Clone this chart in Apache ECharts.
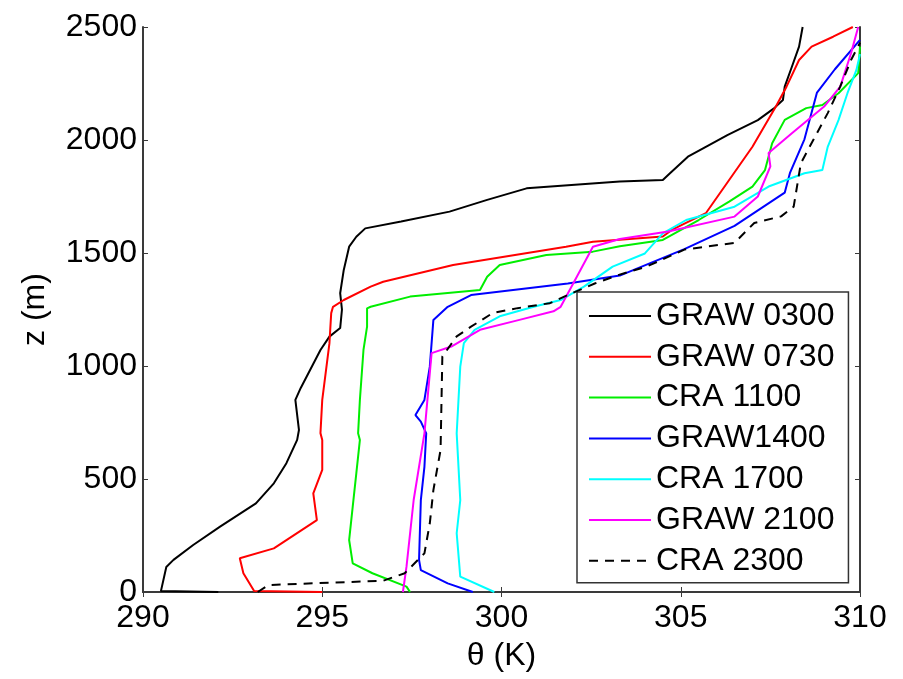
<!DOCTYPE html>
<html>
<head>
<meta charset="utf-8">
<title>Potential temperature profiles</title>
<script src="https://cdn.jsdelivr.net/npm/echarts@6/dist/echarts.min.js"></script>
<style>
  html, body { margin: 0; padding: 0; background: #fff; }
  #chart { width: 903px; height: 679px; }
</style>
</head>
<body>
<div id="chart"></div>
<script>
// Potential temperature (K) against height (m) for each sounding
const seriesNames = ['GRAW 0300', 'GRAW 0730', 'CRA 1100', 'GRAW1400', 'CRA 1700', 'GRAW 2100', 'CRA 2300'];

const graw0300Theta = [292.1, 290.5, 290.65, 290.85, 291.4, 292.15, 293.15, 293.65, 294.0, 294.3, 294.35, 294.25, 294.4, 294.95, 295.2, 295.5, 295.55, 295.5, 295.6, 295.75, 295.95, 296.2, 297.2, 298.55, 299.6, 300.7, 303.3, 304.5, 304.7, 305.2, 305.7, 306.3, 307.15, 307.6, 307.85, 307.9, 308.1, 308.3, 308.4];
const graw0300Z     = [0, 4, 111, 142, 208, 289, 392, 481, 570, 673, 717, 850, 903, 1071, 1130, 1168, 1250, 1322, 1425, 1528, 1572, 1609, 1639, 1683, 1735, 1786, 1816, 1823, 1853, 1926, 1970, 2022, 2088, 2140, 2177, 2236, 2324, 2413, 2500];

const graw0730Theta = [295.0, 293.1, 292.8, 292.7, 293.65, 294.85, 294.75, 295.0, 295.0, 294.95, 295.0, 295.2, 295.25, 295.3, 295.6, 296.35, 296.7, 298.65, 301.8, 302.55, 303.2, 304.5, 304.75, 305.7, 306.35, 307.0, 307.65, 307.95, 308.3, 308.65, 309.25, 309.8];
const graw0730Z     = [0, 4, 83, 149, 193, 318, 436, 540, 673, 703, 850, 1100, 1234, 1262, 1292, 1351, 1373, 1447, 1528, 1550, 1558, 1573, 1602, 1676, 1823, 1970, 2147, 2236, 2354, 2413, 2457, 2500];

const cra1100Theta = [297.45, 297.35, 296.4, 295.85, 295.75, 295.85, 295.95, 296.05, 296.0, 296.05, 296.15, 296.25, 296.25, 296.35, 297.45, 299.4, 299.6, 299.95, 301.25, 302.55, 303.3, 304.5, 305.5, 306.35, 307.0, 307.35, 307.55, 307.9, 308.5, 308.95, 309.4, 309.95, 310.0];
const cra1100Z     = [0, 24, 83, 127, 230, 378, 525, 673, 702, 850, 1071, 1174, 1255, 1262, 1307, 1336, 1395, 1447, 1491, 1506, 1530, 1558, 1646, 1727, 1794, 1867, 1986, 2089, 2141, 2155, 2207, 2296, 2413];

const graw1400Theta = [299.2, 298.5, 297.75, 297.7, 297.75, 297.85, 297.9, 297.75, 297.6, 297.85, 298.0, 298.1, 298.5, 299.15, 301.85, 303.3, 305.1, 306.5, 307.9, 308.05, 308.45, 308.8, 309.3, 310.0];
const graw1400Z     = [0, 38, 97, 142, 407, 554, 702, 754, 783, 850, 997, 1204, 1262, 1314, 1365, 1400, 1517, 1620, 1767, 1856, 2003, 2210, 2313, 2443];

const cra1700Theta = [299.8, 298.85, 298.75, 298.85, 298.75, 298.85, 298.95, 299.25, 299.95, 300.9, 301.65, 302.3, 303.1, 304.0, 304.5, 305.15, 306.5, 307.45, 308.45, 308.95, 309.1, 309.4, 309.65, 309.9, 310.0];
const cra1700Z     = [0, 68, 260, 407, 702, 997, 1101, 1160, 1220, 1262, 1292, 1351, 1440, 1498, 1587, 1646, 1705, 1794, 1853, 1867, 1970, 2088, 2207, 2310, 2380];

const graw2100Theta = [297.25, 297.35, 297.55, 297.85, 298.05, 298.6, 299.4, 300.5, 301.45, 301.65, 302.0, 302.55, 303.3, 304.65, 306.5, 307.15, 307.5, 307.45, 308.1, 309.0, 309.45, 309.75, 309.95];
const graw2100Z     = [0, 112, 407, 702, 1057, 1086, 1160, 1204, 1242, 1262, 1365, 1528, 1562, 1595, 1661, 1750, 1883, 1942, 2030, 2148, 2236, 2384, 2500];

const cra2300Theta = [293.2, 293.5, 296.7, 297.3, 297.85, 298.0, 298.1, 298.3, 298.35, 298.75, 299.15, 299.75, 300.45, 301.35, 301.85, 302.6, 303.25, 304.05, 305.1, 306.5, 307.05, 307.8, 308.15, 308.35, 308.7, 309.1, 309.45, 309.75, 310.0];
const cra2300Z     = [0, 31, 50, 83, 171, 304, 451, 628, 1042, 1131, 1174, 1234, 1256, 1278, 1314, 1365, 1402, 1440, 1515, 1545, 1633, 1662, 1705, 1897, 2001, 2119, 2237, 2354, 2430];

// Axis ticks
const thetaTicks = [290, 295, 300, 305, 310];
const zTicks = [0, 500, 1000, 1500, 2000, 2500];

const profiles = [
  { theta: graw0300Theta, z: graw0300Z, color: '#000000', type: 'solid' },
  { theta: graw0730Theta, z: graw0730Z, color: '#ff0000', type: 'solid' },
  { theta: cra1100Theta,  z: cra1100Z,  color: '#00ee00', type: 'solid' },
  { theta: graw1400Theta, z: graw1400Z, color: '#0000ff', type: 'solid' },
  { theta: cra1700Theta,  z: cra1700Z,  color: '#00ffff', type: 'solid' },
  { theta: graw2100Theta, z: graw2100Z, color: '#ff00ff', type: 'solid' },
  { theta: cra2300Theta,  z: cra2300Z,  color: '#000000', type: [9, 7] }
];

const FONT = '"Liberation Sans", Arial, Helvetica, sans-serif';
const frameColor = '#3a3a3a';

const chart = echarts.init(document.getElementById('chart'), null, { renderer: 'canvas' });

const baseAxisLine = { show: true, lineStyle: { color: frameColor, width: 2 } };
const tickStyle = { show: true, inside: true, length: 5, lineStyle: { color: frameColor, width: 1 } };
const plainNumber = v => String(v);

chart.setOption({
  animation: false,
  backgroundColor: '#ffffff',
  grid: { left: 143, right: 43, top: 27, bottom: 87, containLabel: false },
  xAxis: [
    {
      type: 'value', min: thetaTicks[0], max: thetaTicks[thetaTicks.length - 1], interval: 5,
      position: 'bottom',
      name: 'θ (K)', nameLocation: 'middle', nameGap: 48,
      nameTextStyle: { fontFamily: FONT, fontSize: 32, color: '#000' },
      axisLine: baseAxisLine, axisTick: tickStyle, splitLine: { show: false },
      axisLabel: { fontFamily: FONT, fontSize: 32, color: '#000', margin: 10, formatter: plainNumber }
    },
    {
      type: 'value', min: thetaTicks[0], max: thetaTicks[thetaTicks.length - 1], interval: 5,
      position: 'top',
      axisLine: baseAxisLine, axisTick: tickStyle, splitLine: { show: false },
      axisLabel: { show: false }
    }
  ],
  yAxis: [
    {
      type: 'value', min: zTicks[0], max: zTicks[zTicks.length - 1], interval: 500,
      position: 'left',
      name: 'z (m)', nameLocation: 'middle', nameGap: 92,
      nameTextStyle: { fontFamily: FONT, fontSize: 32, color: '#000' },
      axisLine: baseAxisLine, axisTick: tickStyle, splitLine: { show: false },
      axisLabel: { fontFamily: FONT, fontSize: 32, color: '#000', margin: 6, formatter: plainNumber }
    },
    {
      type: 'value', min: zTicks[0], max: zTicks[zTicks.length - 1], interval: 500,
      position: 'right',
      axisLine: baseAxisLine, axisTick: tickStyle, splitLine: { show: false },
      axisLabel: { show: false }
    }
  ],
  legend: {
    orient: 'vertical',
    left: 577, top: 292,
    padding: [8, 14, 6, 11],
    itemWidth: 62, itemHeight: 14, itemGap: 8.8,
    itemStyle: { opacity: 0, borderWidth: 0 },
    backgroundColor: '#ffffff',
    borderColor: '#333333', borderWidth: 1.5,
    textStyle: { fontFamily: FONT, fontSize: 32, color: '#000', lineHeight: 32 },
    data: seriesNames
  },
  series: profiles.map((p, i) => ({
    name: seriesNames[i],
    type: 'line',
    xAxisIndex: 0, yAxisIndex: 0,
    data: p.theta.map((t, k) => [t, p.z[k]]),
    symbol: 'none',
    smooth: false,
    clip: true,
    lineStyle: { color: p.color, width: 2, type: p.type },
    itemStyle: { color: p.color },
    z: 3 + i
  }))
});
</script>
</body>
</html>
